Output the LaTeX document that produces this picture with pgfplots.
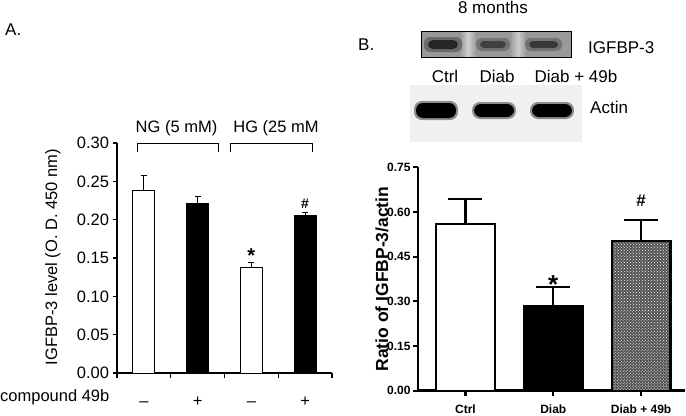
\documentclass[border=0pt]{standalone}
\usepackage{fontspec}
\setmainfont{Liberation Sans}
\usepackage{pgfplots}
\pgfplotsset{compat=1.18}
\usetikzlibrary{patterns}
\newcommand\fA{\fontsize{16.5bp}{19bp}\selectfont}
\newcommand\fT{\fontsize{17bp}{19bp}\selectfont}
\newcommand\fB{\bfseries\fontsize{12bp}{14bp}\selectfont}
\newcommand\fBL{\bfseries\fontsize{17.5bp}{20bp}\selectfont}
\pgfplotsset{numfmt/.style={/pgf/number format/fixed, /pgf/number format/fixed zerofill, /pgf/number format/precision=2, /pgf/number format/assume math mode=true}}
\begin{document}
\begin{tikzpicture}[x=1bp,y=1bp]
\useasboundingbox (0,0) rectangle (686,415);

% ---------------- Panel A ----------------
\begin{axis}[
  at={(117bp,42bp)}, anchor=south west, scale only axis,
  width=215bp, height=230bp,
  xmin=-0.5, xmax=3.5, ymin=0, ymax=0.30,
  axis x line*=bottom, axis y line*=left,
  axis line style={line width=1.2bp,-},
  tick style={line width=1.2bp, black},
  tick align=outside,
  major tick length=4.5bp, minor tick length=5bp,
  ytick={0,0.05,0.1,0.15,0.2,0.25,0.3},
  yticklabel style={numfmt, font=\fA},
  xtick={0,1,2,3}, xticklabels={–,+,–,+},
  major x tick style={draw=none},
  minor xtick={-0.5,0.5,1.5,2.5,3.5},
  xticklabel style={font=\fA, anchor=base, yshift=-28.7bp},
  ylabel={IGFBP-3 level (O. D. 450 nm)},
  ylabel style={font=\fA, at={(axis description cs:-0.298,0.504)}, anchor=center},
  ybar, bar width=0.41, bar shift=0pt,
  clip=false,
]
\addplot[fill=white, draw=black, line width=1bp,
  error bars/.cd, y dir=plus, y explicit,
  error bar style={line width=1bp, black},
  error mark options={rotate=90, mark size=3bp, line width=1bp, black}]
  coordinates {(0,0.238) +- (0,0.020) (2,0.137) +- (0,0.007)};
\addplot[fill=black, draw=black, line width=1bp,
  error bars/.cd, y dir=plus, y explicit,
  error bar style={line width=1bp, black},
  error mark options={rotate=90, mark size=3bp, line width=1bp, black}]
  coordinates {(1,0.221) +- (0,0.009) (3,0.206) +- (0,0.004)};
\node[font=\bfseries\fontsize{20bp}{22bp}\selectfont, anchor=base] at (axis cs:2,0.144) {*};
\node[font=\bfseries\fontsize{14bp}{16bp}\selectfont, anchor=base] at (axis cs:3,0.215) {\#};
\end{axis}

% brackets and labels for panel A
\draw[line width=1bp] (137,263.3) -- (137,271.7) -- (218,271.7) -- (218,263.3);
\draw[line width=1bp] (230,263.3) -- (230,271.7) -- (312,271.7) -- (312,263.3);
\node[font=\fA, anchor=base, inner sep=0] at (176.5,283) {NG (5 mM)};
\node[font=\fA, anchor=base, inner sep=0] at (276,283) {HG (25 mM};
\node[font=\fA, anchor=base west, inner sep=0] at (0,13.3) {compound 49b};
\node[font=\fT, anchor=base west, inner sep=0] at (5,380) {A.};

% ---------------- Panel B blots ----------------
\node[font=\fT, anchor=base, inner sep=0] at (493,401) {8 months};
\node[font=\fT, anchor=base west, inner sep=0] at (358,365) {B.};
% IGFBP-3 blot
\fill[black!40] (421,358) rectangle (571,383);
\shade[left color=black!40, right color=black!40, middle color=black!18] (460,358) rectangle (476,383);
\shade[left color=black!40, right color=black!40, middle color=black!20] (510,358) rectangle (526,383);
\fill[black!58, rounded corners=6] (424,363) rectangle (462,378);
\fill[black!85, rounded corners=5] (428,366) rectangle (458,375);
\fill[black!55, rounded corners=6] (476,364) rectangle (510,377);
\fill[black!75, rounded corners=4] (480,367) rectangle (506,374);
\fill[black!55, rounded corners=6] (525,364) rectangle (562,377);
\fill[black!78, rounded corners=4] (529,367) rectangle (558,374);
\draw[line width=1bp] (421,358) rectangle (571,383);
\node[font=\fT, anchor=base west, inner sep=0] at (588,362) {IGFBP-3};
\node[font=\fT, anchor=base, inner sep=0] at (445,333) {Ctrl};
\node[font=\fT, anchor=base, inner sep=0] at (497,333) {Diab};
\node[font=\fT, anchor=base, inner sep=0] at (576,333) {Diab + 49b};
% Actin blot
\fill[black!6] (410,273) rectangle (582,330);
\fill[black!45, rounded corners=8] (414,295) rectangle (458,314);
\fill[black, rounded corners=7] (416,297) rectangle (456,312);
\fill[black!45, rounded corners=8] (472,296) rectangle (516,313);
\fill[black, rounded corners=7] (474,298) rectangle (514,311);
\fill[black!45, rounded corners=8] (530,296) rectangle (574,313);
\fill[black, rounded corners=7] (532,298) rectangle (572,311);
\node[font=\fT, anchor=base west, inner sep=0] at (590,302) {Actin};

% ---------------- Panel B chart ----------------
\begin{axis}[
  at={(418bp,24.3bp)}, anchor=south west, scale only axis,
  width=267bp, height=223.4bp,
  xmin=-0.54, xmax=2.5, ymin=0, ymax=0.75,
  axis x line*=bottom, axis y line*=left,
  axis line style={line width=2.5bp,-},
  tick style={line width=2.2bp, black},
  tick align=outside,
  major tick length=5bp,
  ytick={0,0.15,0.3,0.45,0.6,0.75},
  yticklabel style={numfmt, font=\fB, xshift=1bp},
  xtick={0,1,2}, xticklabels={Ctrl,Diab,Diab + 49b},
  xticklabel style={font=\fB, anchor=base, yshift=-17.5bp},
  ylabel={Ratio of IGFBP-3/actin},
  ylabel style={font=\fBL, at={(axis description cs:-0.135,0.5)}, anchor=center},
  ybar, bar width=0.67, bar shift=0pt,
  clip=false,
]
\addplot[fill=white, draw=black, line width=2.2bp,
  error bars/.cd, y dir=plus, y explicit,
  error bar style={line width=2.2bp, black},
  error mark options={rotate=90, mark size=17bp, line width=2.2bp, black}]
  coordinates {(0,0.559) +- (0,0.084)};
\addplot[fill=black, draw=black, line width=2.2bp,
  error bars/.cd, y dir=plus, y explicit,
  error bar style={line width=2.2bp, black},
  error mark options={rotate=90, mark size=17bp, line width=2.2bp, black}]
  coordinates {(1,0.285) +- (0,0.062)};
\addplot[fill=black!68, postaction={pattern=crosshatch dots, pattern color=white}, draw=black, line width=2.2bp,
  error bars/.cd, y dir=plus, y explicit,
  error bar style={line width=2.2bp, black},
  error mark options={rotate=90, mark size=17bp, line width=2.2bp, black}]
  coordinates {(2,0.503) +- (0,0.069)};
\node[font=\bfseries\fontsize{26bp}{28bp}\selectfont, anchor=base] at (axis cs:1,0.328) {*};
\node[font=\bfseries\fontsize{17bp}{19bp}\selectfont, anchor=base] at (axis cs:2,0.617) {\#};
\end{axis}
\end{tikzpicture}
\end{document}
